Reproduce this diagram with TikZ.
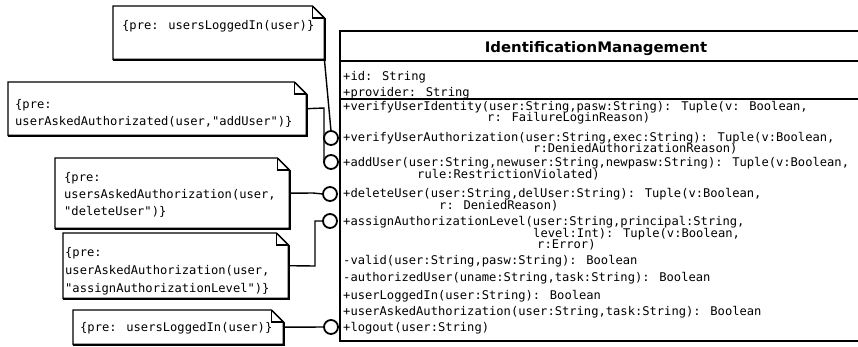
\documentclass[tikz,border=0pt]{standalone}
\usepackage{fontspec}
\newfontfamily\umlmono[FakeStretch=1.01]{DejaVu Sans Mono}
\newfontfamily\umlsans[FakeStretch=1.03]{DejaVu Sans}
\newcommand\notepath[2]{([shift={#2}]#1.north west) -- ([shift={#2},xshift=-12pt]#1.north east) -- ([shift={#2},yshift=-12pt]#1.north east) -- ([shift={#2}]#1.south east) -- ([shift={#2}]#1.south west) -- cycle}
\newcommand\drawnote[1]{%
  \draw[noteline] \notepath{#1}{(0.8,0.8)};
  \draw[noteline,fill=white] \notepath{#1}{(0,0)};
  \draw[noteline] ([xshift=-12pt]#1.north east) |- ([yshift=-12pt]#1.north east);}
\tikzset{
  mono/.style={font=\umlmono\fontsize{12}{12}\selectfont, inner sep=0pt, anchor=base west},
  titletext/.style={font=\umlsans\bfseries\fontsize{14.5}{16}\selectfont, inner sep=0pt, anchor=base},
  classline/.style={line width=2pt},
  noteline/.style={line width=1.4pt},
  notebody/.style={inner sep=0pt, anchor=north west},
  socket/.style={circle, draw, line width=1.8pt, fill=white, minimum size=14pt, inner sep=0pt},
  wire/.style={line width=1.4pt},
}
\begin{document}
\begin{tikzpicture}[x=1pt,y=-1pt]
\useasboundingbox (0,0) rectangle (858,346);

% class frame and compartments
\draw[classline] (862,31) -- (340,31) -- (340,341) -- (862,341);
\draw[classline] (340,61) -- (862,61);
\draw[classline] (340,99) -- (862,99);
\node[titletext] (title) at (596,52) {IdentificationManagement};

% attributes
\node[mono] (aid) at (343,80) {+id: String};
\node[mono] (aprov) at (343,96) {+provider: String};

% operations
\node[mono] (m1) at (343,110) {+verifyUserIdentity(user:String,pasw:String): Tuple(v: Boolean,};
\node[mono] (m1b) at (487,121) {r: FailureLoginReason)};
\node[mono] (m2) at (343,141) {+verifyUserAuthorization(user:String,exec:String): Tuple(v:Boolean,};
\node[mono] (m2b) at (533,152) {r:DeniedAuthorizationReason)};
\node[mono] (m3) at (343,166) {+addUser(user:String,newuser:String,newpasw:String): Tuple(v:Boolean,};
\node[mono] (m3b) at (417,178) {rule:RestrictionViolated)};
\node[mono] (m4) at (343,197) {+deleteUser(user:String,delUser:String): Tuple(v:Boolean,};
\node[mono] (m4b) at (439,209) {r: DeniedReason)};
\node[mono] (m5) at (343,225) {+assignAuthorizationLevel(user:String,principal:String,};
\node[mono] (m5b) at (533,237) {level:Int): Tuple(v:Boolean,};
\node[mono] (m5c) at (537,248) {r:Error)};
\node[mono] (m6) at (343,264) {-valid(user:String,pasw:String): Boolean};
\node[mono] (m7) at (343,281) {-authorizedUser(uname:String,task:String): Boolean};
\node[mono] (m8) at (343,299) {+userLoggedIn(user:String): Boolean};
\node[mono] (m9) at (343,315) {+userAskedAuthorization(user:String,task:String): Boolean};
\node[mono] (m10) at (343,331) {+logout(user:String)};

% note bodies
\node[notebody, minimum width=211pt, minimum height=53pt] (nA) at (113,6) {};
\node[notebody, minimum width=298pt, minimum height=53pt] (nB) at (8,82) {};
\node[notebody, minimum width=234pt, minimum height=70pt] (nC) at (55,158) {};
\node[notebody, minimum width=225pt, minimum height=65pt] (nD) at (63,233) {};
\node[notebody, minimum width=210pt, minimum height=34pt] (nE) at (73,310) {};
\drawnote{nA}
\drawnote{nB}
\drawnote{nC}
\drawnote{nD}
\drawnote{nE}

% note texts
\node[mono] (tA) at (122,29) {\{pre: usersLoggedIn(user)\}};
\node[mono] (tB1) at (15,108) {\{pre:};
\node[mono] (tB2) at (15,125) {userAskedAuthorizated(user,"addUser")\}};
\node[mono] (tC1) at (64,181) {\{pre:};
\node[mono] (tC2) at (64,198) {usersAskedAuthorization(user,};
\node[mono] (tC3) at (64,215) {"deleteUser")\}};
\node[mono] (tD1) at (65,256) {\{pre:};
\node[mono] (tD2) at (65,274) {userAskedAuthorization(user,};
\node[mono] (tD3) at (65,292) {"assignAuthorizationLevel")\}};
\node[mono] (tE) at (80,331) {\{pre: usersLoggedIn(user)\}};

% connectors
\coordinate (kB) at (324,108);
\coordinate (kC) at (313,193);
\coordinate (kD) at (315,266);
\draw[wire] (nA.south east) -- (331,131);
\draw[wire] (nB.east) -- (kB) -- (324,162);
\draw[wire] (nC.east) -- (kC) -- (323,194);
\draw[wire] (nD.east) -- (kD) |- (323,221);
\draw[wire] (nE.east) -- (324,327);

% interface sockets
\node[socket] (c1) at (331,138) {};
\node[socket] (c2) at (331,162) {};
\node[socket] (c3) at (330,194) {};
\node[socket] (c4) at (330,221) {};
\node[socket] (c5) at (331,327) {};
\end{tikzpicture}
\end{document}
